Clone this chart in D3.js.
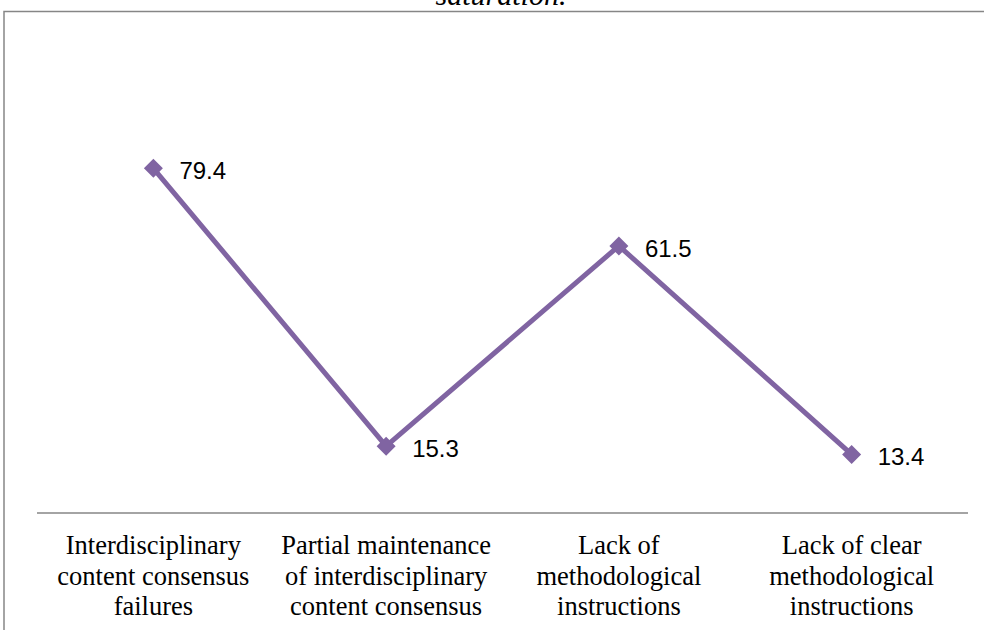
<!DOCTYPE html>
<html><head><meta charset="utf-8">
<script src="https://cdn.jsdelivr.net/npm/d3@7"></script>
<style>body{margin:0;background:#fff;}svg{display:block;}</style>
</head><body>
<script>
const categories = [
  ["Interdisciplinary","content consensus","failures"],
  ["Partial maintenance","of interdisciplinary","content consensus"],
  ["Lack of","methodological","instructions"],
  ["Lack of clear","methodological","instructions"]
];
const values = [79.4, 15.3, 61.5, 13.4];
const titleText = "saturation.";

const W = 984, H = 630;
const svg = d3.select("body").append("svg").attr("width", W).attr("height", H);

// frame
svg.append("rect").attr("x", 4).attr("y", 11.5).attr("width", 1000).attr("height", 700)
  .attr("fill", "none").attr("stroke", "#868686").attr("stroke-width", 1.5);

svg.append("text").attr("x", 501).attr("y", 5).attr("text-anchor", "middle")
  .style("font-family", "Liberation Serif").style("font-style", "italic").style("font-size", "30px")
  .text(titleText);

const x = d3.scaleBand().domain(d3.range(values.length)).range([37, 968]);
const y = d3.scaleLinear().domain([0, 100]).range([512.5, 79]);

svg.append("line").attr("x1", 37).attr("x2", 968).attr("y1", 513).attr("y2", 513)
  .attr("stroke", "#868686").attr("stroke-width", 1.5);

const cx = i => x(i) + x.bandwidth() / 2;

svg.append("path").datum(values)
  .attr("d", d3.line().x((d, i) => cx(i)).y(d => y(d)))
  .attr("fill", "none").attr("stroke", "#8064A2").attr("stroke-width", 5).attr("stroke-linejoin", "round");

svg.selectAll(".m").data(values).enter().append("path")
  .attr("transform", (d, i) => `translate(${cx(i)},${y(d)})`)
  .attr("d", "M0,-9.5L9.5,0L0,9.5L-9.5,0Z").attr("fill", "#8064A2");

svg.selectAll(".lbl").data(values).enter().append("text")
  .attr("x", (d, i) => cx(i) + 26).attr("y", d => y(d) + 11)
  .style("font-family", "Liberation Sans, Arial").style("font-size", "24px").attr("fill", "#000")
  .text(d => d.toFixed(1));

const cat = svg.selectAll(".cat").data(categories).enter().append("text")
  .attr("text-anchor", "middle")
  .style("font-family", "Liberation Serif").style("font-size", "26.5px").attr("fill", "#000");
cat.each(function(lines, i) {
  d3.select(this).selectAll("tspan").data(lines).enter().append("tspan")
    .attr("x", cx(i)).attr("y", (d, j) => 554 + j * 30.5).text(d => d);
});
</script>
</body></html>
